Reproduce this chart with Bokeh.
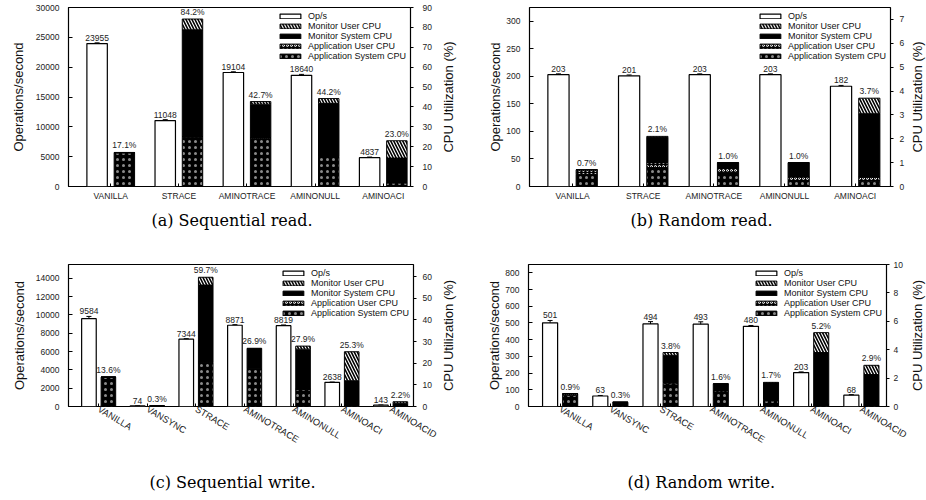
import math
import numpy as np
from bokeh.plotting import figure
from bokeh.models import (Range1d, LinearAxis, ColumnDataSource, Whisker, TeeHead,
                          Legend, LegendItem, Title)
from bokeh.layouts import column, row
from bokeh.embed import file_html
from bokeh.resources import INLINE
from bokeh.core.properties import value

# ---------------- data ----------------
# (a) Sequential read
cats_a = ["VANILLA", "STRACE", "AMINOTRACE", "AMINONULL", "AMINOACI"]
ops_a = [23955, 11048, 19104, 18640, 4837]
ops_err_a = [120, 150, 120, 150, 100]
app_sys_a = [16.9, 24.8, 24.3, 14.8, 1.8]
app_usr_a = [0.2, 0.3, 0.3, 0.3, 0.2]
mon_sys_a = [0.0, 53.7, 16.8, 26.7, 12.3]
mon_usr_a = [0.0, 5.4, 1.3, 2.4, 8.7]

# (b) Random read
cats_b = ["VANILLA", "STRACE", "AMINOTRACE", "AMINONULL", "AMINOACI"]
ops_b = [203, 201, 203, 203, 182]
ops_err_b = [1.5, 1.5, 1.5, 1.5, 1.5]
app_sys_b = [0.5, 0.8, 0.6, 0.25, 0.22]
app_usr_b = [0.2, 0.2, 0.2, 0.15, 0.17]
mon_sys_b = [0.0, 1.05, 0.2, 0.6, 2.66]
mon_usr_b = [0.0, 0.05, 0.0, 0.0, 0.65]

# (c) Sequential write
cats_c = ["VANILLA", "VANSYNC", "STRACE", "AMINOTRACE", "AMINONULL", "AMINOACI", "AMINOACID"]
ops_c = [9584, 74, 7344, 8871, 8819, 2638, 143]
ops_err_c = [250, 10, 60, 60, 80, 30, 10]
app_sys_c = [13.4, 0.2, 20.2, 17.1, 7.8, 0.4, 0.2]
app_usr_c = [0.2, 0.1, 0.3, 0.3, 0.3, 0.1, 0.1]
mon_sys_c = [0.0, 0.0, 35.6, 9.3, 18.4, 11.4, 1.2]
mon_usr_c = [0.0, 0.0, 3.6, 0.2, 1.4, 13.4, 0.7]

# (d) Random write
cats_d = ["VANILLA", "VANSYNC", "STRACE", "AMINOTRACE", "AMINONULL", "AMINOACI", "AMINOACID"]
ops_d = [501, 63, 494, 493, 480, 203, 68]
ops_err_d = [14, 3, 14, 14, 5, 4, 3]
app_sys_d = [0.8, 0.25, 1.6, 1.0, 0.4, 0.1, 0.1]
app_usr_d = [0.1, 0.05, 0.1, 0.1, 0.1, 0.05, 0.05]
mon_sys_d = [0.0, 0.0, 1.9, 0.5, 1.15, 3.65, 2.1]
mon_usr_d = [0.0, 0.0, 0.2, 0.0, 0.05, 1.4, 0.65]

legend_labels = ["Op/s", "Monitor User CPU", "Monitor System CPU",
                 "Application User CPU", "Application System CPU"]
left_title = "Operations/second"
right_title = "CPU Utilization (%)"
captions = ["(a) Sequential read.", "(b) Random read.",
            "(c) Sequential write.", "(d) Random write."]

SANS = "Liberation Sans"
SERIF = "DejaVu Serif"


def panel(cats, ops, err, a_sys, a_usr, m_sys, m_usr,
          ops_max, ops_step, cpu_max, cpu_step, x_lo, x_hi,
          W, H, bl, br, bt, bb, caption, cap_offset, cap_standoff,
          ylab_standoff, rtick_standoff, rotate):
    n = len(cats)
    idx = np.arange(n)
    tot = [round(a + b + c + d, 1) for a, b, c, d in zip(a_sys, a_usr, m_sys, m_usr)]
    src = ColumnDataSource(dict(
        x_op=idx - 0.2, x_cpu=idx + 0.2, ops=ops,
        upper=[o + e for o, e in zip(ops, err)],
        lower=[o - e for o, e in zip(ops, err)],
        op_lbl=[str(o) for o in ops],
        a_sys=a_sys, a_usr=a_usr, m_sys=m_sys, m_usr=m_usr,
        total=tot, cpu_lbl=["%.1f%%" % t for t in tot]))

    p = figure(width=W, height=H, x_range=Range1d(x_lo, x_hi), y_range=Range1d(0, ops_max),
               output_backend="svg", toolbar_location=None,
               min_border_left=bl, min_border_right=br, min_border_top=bt, min_border_bottom=bb)
    p.extra_y_ranges = {"cpu": Range1d(0, cpu_max)}
    p.add_layout(LinearAxis(y_range_name="cpu"), "right")

    r_op = p.vbar(x="x_op", top="ops", width=0.3, source=src, fill_color="white",
                  line_color="black", line_width=1.2)
    rs = p.vbar_stack(["a_sys", "a_usr", "m_sys", "m_usr"], x="x_cpu", width=0.3, source=src,
                      y_range_name="cpu",
                      fill_color=["black", "black", "black", "white"],
                      hatch_pattern=["dot", "ring", " ", "left_diagonal_line"],
                      hatch_color=["#8a8a8a", "white", "black", "black"],
                      hatch_scale=[6, 4, 6, 6],
                      hatch_weight=[1, 1, 1, 1.6],
                      line_color="black", line_width=1)

    p.add_layout(Whisker(base="x_op", upper="upper", lower="lower", source=src,
                         line_color="black", line_width=1,
                         upper_head=TeeHead(size=5, line_width=1),
                         lower_head=TeeHead(size=5, line_width=1)))

    p.text(x="x_op", y="upper", text="op_lbl", source=src, text_align="center",
           text_baseline="bottom", y_offset=-2, text_font=value(SANS),
           text_font_size="8.5px", text_color="#222")
    p.text(x="x_cpu", y="total", text="cpu_lbl", source=src, y_range_name="cpu",
           text_align="center", text_baseline="bottom", y_offset=-2, text_font=value(SANS),
           text_font_size="8.5px", text_color="#222")

    for ax in p.axis:
        ax.axis_line_color = None
        ax.major_tick_line_color = "black"
        ax.minor_tick_line_color = None
        ax.major_label_text_font = SANS
        ax.major_label_text_font_size = "8.5px"
        ax.major_label_text_color = "#222"
    yl = p.yaxis[0]
    yl.ticker = list(range(0, ops_max + 1, ops_step))
    yl.major_tick_in = 4
    yl.major_tick_out = 0
    yl.major_label_standoff = 9
    yl.axis_label = left_title
    yl.axis_label_text_font = SANS
    yl.axis_label_text_font_size = "13px"
    yl.axis_label_text_font_style = "normal"
    yl.axis_label_text_color = "#111"
    yl.axis_label_standoff = ylab_standoff
    yr = p.yaxis[1]
    cpu_ticks = []
    t = 0
    while t <= cpu_max + 1e-9:
        cpu_ticks.append(t)
        t += cpu_step
    yr.ticker = cpu_ticks
    yr.major_tick_in = 0
    yr.major_tick_out = 3
    yr.major_label_standoff = rtick_standoff
    xa = p.xaxis[0]
    xa.ticker = list(range(n))
    xa.major_label_overrides = {i: c for i, c in enumerate(cats)}
    xa.major_tick_in = 3
    xa.major_tick_out = 0
    xa.major_label_standoff = 4
    if rotate:
        xa.major_label_orientation = -0.54
        xa.major_label_standoff = 2
        xa.major_label_text_font_size = "9.3px"

    p.grid.visible = False
    p.outline_line_color = "black"
    p.outline_line_width = 1.2
    p.background_fill_color = "white"
    p.border_fill_color = "white"

    items = [LegendItem(label=legend_labels[0], renderers=[r_op]),
             LegendItem(label=legend_labels[1], renderers=[rs[3]]),
             LegendItem(label=legend_labels[2], renderers=[rs[2]]),
             LegendItem(label=legend_labels[3], renderers=[rs[1]]),
             LegendItem(label=legend_labels[4], renderers=[rs[0]])]
    lg = Legend(items=items, location="top_right",
                label_text_font=SANS, label_text_font_size="9px", label_text_color="#111",
                label_standoff=5, glyph_width=26, glyph_height=6, label_height=10, spacing=0,
                padding=0, margin=4, background_fill_alpha=0, border_line_color=None)
    p.add_layout(lg)

    if caption:
        p.add_layout(Title(text=caption, align="left", offset=cap_offset, standoff=cap_standoff,
                           text_font=SERIF, text_font_size="16px", text_font_style="normal",
                           text_color="black"), "below")
    return p


def blank(W, H, bl, br, bt, bb):
    q = figure(width=W, height=H, output_backend="svg", toolbar_location=None,
               x_axis_location=None, y_axis_location=None, title=None,
               min_border_left=bl, min_border_right=br, min_border_top=bt,
               min_border_bottom=bb)
    q.grid.visible = False
    q.outline_line_color = None
    q.background_fill_color = "white"
    q.border_fill_color = "white"
    return q


def side_title(W, H, bt, bb):
    # narrow strip carrying the right-hand axis title, read from bottom to top
    q = blank(W, H, W - 1, 0, bt, bb)
    q.add_layout(Title(text=right_title, align="center", vertical_align="middle", standoff=0,
                       text_font=SANS, text_font_size="13px", text_font_style="normal",
                       text_color="#111"), "left")
    return q


def caption_strip(W, H, text, offset):
    q = blank(W, H, 0, 0, H - 8, 7)
    q.add_layout(Title(text=text, align="left", offset=offset, standoff=0,
                       text_font=SERIF, text_font_size="16px", text_font_style="normal",
                       text_color="black"), "above")
    return q


H1, H2, H3 = 248, 206, 45
pa = panel(cats_a, ops_a, ops_err_a, app_sys_a, app_usr_a, mon_sys_a, mon_usr_a,
           30000, 5000, 90, 10, -0.62, 4.40,
           438, H1, 68, 28, 7, 62, captions[0], 83, 11,
           7, 9, False)
la = side_title(19, H1, 7, 62)
pb = panel(cats_b, ops_b, ops_err_b, app_sys_b, app_usr_b, mon_sys_b, mon_usr_b,
           325, 50, 7.5, 1, -0.61, 4.50,
           450, H1, 72, 14, 7, 62, captions[1], 101, 11,
           0, 6, False)
lb = side_title(19, H1, 7, 62)
pc = panel(cats_c, ops_c, ops_err_c, app_sys_c, app_usr_c, mon_sys_c, mon_usr_c,
           15500, 2000, 65.6, 10, -0.62, 6.47,
           439, H2, 68, 26, 16, 48, None, 0, 0,
           6, 6, True)
lc = side_title(18, H2, 16, 48)
pd_ = panel(cats_d, ops_d, ops_err_d, app_sys_d, app_usr_d, mon_sys_d, mon_usr_d,
            850, 100, 10, 2, -0.63, 6.50,
            451, H2, 71, 22, 16, 48, None, 0, 0,
            0, 4, True)
ld = side_title(18, H2, 16, 48)
cc = caption_strip(468, H3, captions[2], 149)
cd = caption_strip(458, H3, captions[3], 159)

layout = column(row(pa, la, pb, lb), row(pc, lc, pd_, ld), row(cc, cd))
open("out.html", "w").write(file_html(layout, INLINE))
